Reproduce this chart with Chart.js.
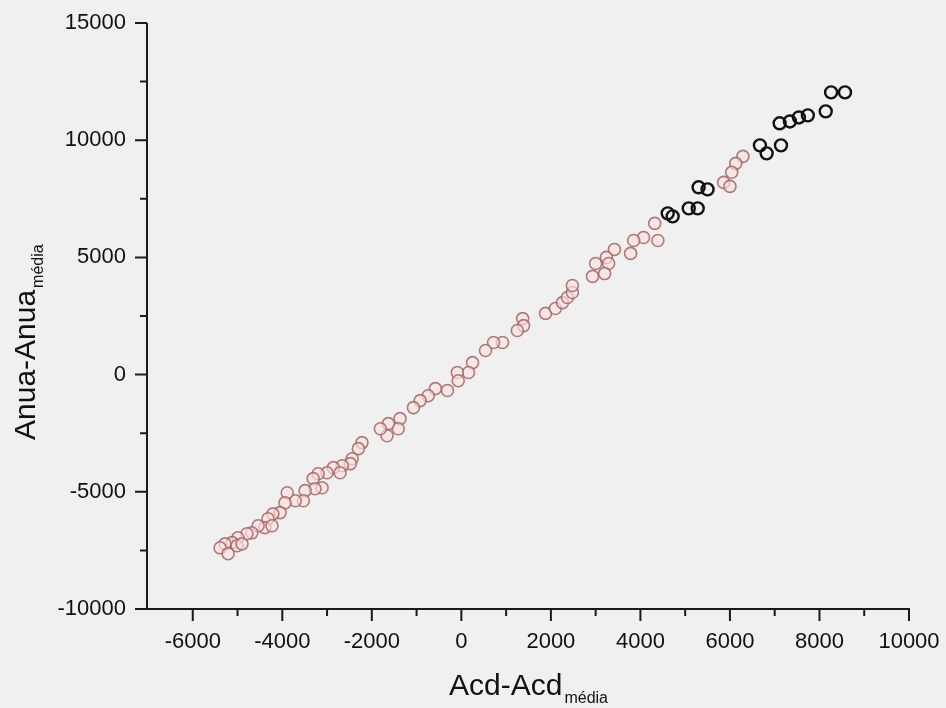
<!DOCTYPE html>
<html><head><meta charset="utf-8">
<script src="https://cdn.jsdelivr.net/npm/chart.js@4/dist/chart.umd.min.js"></script>
<style>html,body{margin:0;padding:0;background:#f0f0f0;} #wrap{width:946px;height:708px;}</style>
</head><body><div id="wrap"><canvas id="c" width="946" height="708"></canvas></div>
<script>
// light (faded) points
const pinkX = [6290,6130,6040,5860,6000,4320,4070,3850,4390,3780,3420,3240,3000,3290,2930,3200,
  1880,2100,2260,2370,2480,2480,1370,1390,1250,920,720,540,250,160,-90,-70,-310,-580,-740,-920,-1070,
  -1370,-1410,-1630,-1660,-1810,-2220,-2300,-2440,-2480,-2660,-2860,-3000,-3200,-3310,-2710,
  -3110,-3270,-3490,-3530,-3710,-3890,-3940,-4050,-4210,-4320,-4390,-4540,-4680,-4790,-4990,-5120,-5280,-5390,-5210,-5010,-4230,-4900];
const pinkY = [9310,9010,8630,8200,8030,6450,5850,5720,5720,5170,5340,5000,4740,4740,4190,4310,
  2610,2820,3070,3290,3500,3800,2390,2090,1880,1370,1370,1030,510,90,90,-260,-680,-600,-900,-1110,-1410,
  -1880,-2310,-2090,-2610,-2310,-2900,-3160,-3590,-3800,-3890,-3970,-4190,-4230,-4440,-4190,
  -4830,-4870,-4950,-5380,-5380,-5040,-5470,-5890,-5940,-6150,-6530,-6450,-6750,-6790,-6960,-7170,-7220,-7390,-7640,-7300,-6450,-7220];
// dark points
const blackX = [8260,8570,8140,7110,7340,7540,7740,6670,6820,7140,5300,5500,5080,5280,4610,4720];
const blackY = [12040,12040,11230,10720,10800,10970,11060,9780,9440,9780,7990,7900,7090,7090,6880,6750];

const xMajorTicks = [-6000,-4000,-2000,0,2000,4000,6000,8000,10000];
const xMinorTicks = [-5000,-3000,-1000,1000,3000,5000,7000,9000];
const yMajorTicks = [-10000,-5000,0,5000,10000,15000];
const yMinorTicks = [-7500,-2500,2500,7500,12500];
const xTitle = 'Acd-Acd';
const yTitle = 'Anua-Anua';
const titleSub = 'média';

const FONT = '"Liberation Sans", Arial, sans-serif';

const axesPlugin = {
  id: 'axesPlugin',
  beforeDatasetsDraw(chart) {
    const ctx = chart.ctx, xs = chart.scales.x, ys = chart.scales.y;
    const ax = xs.getPixelForValue(xs.min), ay = ys.getPixelForValue(ys.min);
    ctx.save();
    ctx.strokeStyle = '#1a1a1a';
    ctx.lineWidth = 2;
    ctx.beginPath();
    ctx.moveTo(ax - 1, ys.getPixelForValue(ys.max));
    ctx.lineTo(ax - 1, ay + 1);
    ctx.moveTo(ax, ay);
    ctx.lineTo(xs.getPixelForValue(xs.max) + 1, ay);
    yMajorTicks.forEach(v => { const p = ys.getPixelForValue(v); ctx.moveTo(ax - 1, p); ctx.lineTo(ax - 13, p); });
    yMinorTicks.forEach(v => { const p = ys.getPixelForValue(v); ctx.moveTo(ax - 1, p); ctx.lineTo(ax - 8, p); });
    xMajorTicks.forEach(v => { const p = xs.getPixelForValue(v); ctx.moveTo(p, ay); ctx.lineTo(p, ay + 12); });
    xMinorTicks.forEach(v => { const p = xs.getPixelForValue(v); ctx.moveTo(p, ay); ctx.lineTo(p, ay + 7); });
    ctx.stroke();

    // axis titles
    ctx.fillStyle = '#111';
    ctx.textBaseline = 'alphabetic';
    ctx.textAlign = 'left';
    ctx.font = '30px ' + FONT;
    const w1 = ctx.measureText(xTitle).width;
    ctx.font = '16px ' + FONT;
    const w2 = ctx.measureText(titleSub).width;
    const cx = (chart.chartArea.left + chart.chartArea.right) / 2;
    const sx = cx - (w1 + w2 + 2) / 2;
    ctx.font = '30px ' + FONT;
    ctx.fillText(xTitle, sx, 695);
    ctx.font = '16px ' + FONT;
    ctx.fillText(titleSub, sx + w1 + 2, 703);

    ctx.translate(35, 440);
    ctx.rotate(-Math.PI / 2);
    ctx.font = '30px ' + FONT;
    const w3 = ctx.measureText(yTitle).width;
    ctx.fillText(yTitle, 0, 0);
    ctx.font = '16px ' + FONT;
    ctx.fillText(titleSub, w3 + 2, 8);
    ctx.restore();
  }
};

new Chart(document.getElementById('c'), {
  type: 'scatter',
  data: {
    datasets: [
      {
        data: pinkX.map((x, i) => ({x: x, y: pinkY[i]})),
        pointRadius: 6,
        pointBorderWidth: 1.6,
        borderColor: 'rgba(165,100,100,0.85)',
        backgroundColor: 'rgba(250,224,224,0.65)'
      },
      {
        data: blackX.map((x, i) => ({x: x, y: blackY[i]})),
        pointRadius: 6,
        pointBorderWidth: 2.4,
        borderColor: '#111',
        backgroundColor: 'rgba(240,240,240,0)'
      }
    ]
  },
  options: {
    responsive: false,
    animation: false,
    layout: {padding: {left: 0, right: 37, top: 23, bottom: 0}},
    plugins: {legend: {display: false}, tooltip: {enabled: false}},
    scales: {
      x: {
        type: 'linear', min: -7000, max: 10000,
        afterBuildTicks: s => { s.ticks = xMajorTicks.map(v => ({value: v})); },
        afterFit: s => { s.height = 99; s.paddingLeft = 0; s.paddingRight = 0; },
        grid: {display: false, drawTicks: false},
        border: {display: false},
        ticks: {font: {family: FONT, size: 22}, color: '#111', padding: 20, maxRotation: 0, autoSkip: false,
                callback: v => String(v)}
      },
      y: {
        type: 'linear', min: -10000, max: 15000,
        afterBuildTicks: s => { s.ticks = yMajorTicks.map(v => ({value: v})); },
        afterFit: s => { s.width = 148; s.paddingTop = 0; s.paddingBottom = 0; },
        grid: {display: false, drawTicks: false},
        border: {display: false},
        ticks: {font: {family: FONT, size: 22}, color: '#111', padding: 22, autoSkip: false,
                callback: v => String(v)}
      }
    }
  },
  plugins: [axesPlugin]
});
</script>
</body></html>
